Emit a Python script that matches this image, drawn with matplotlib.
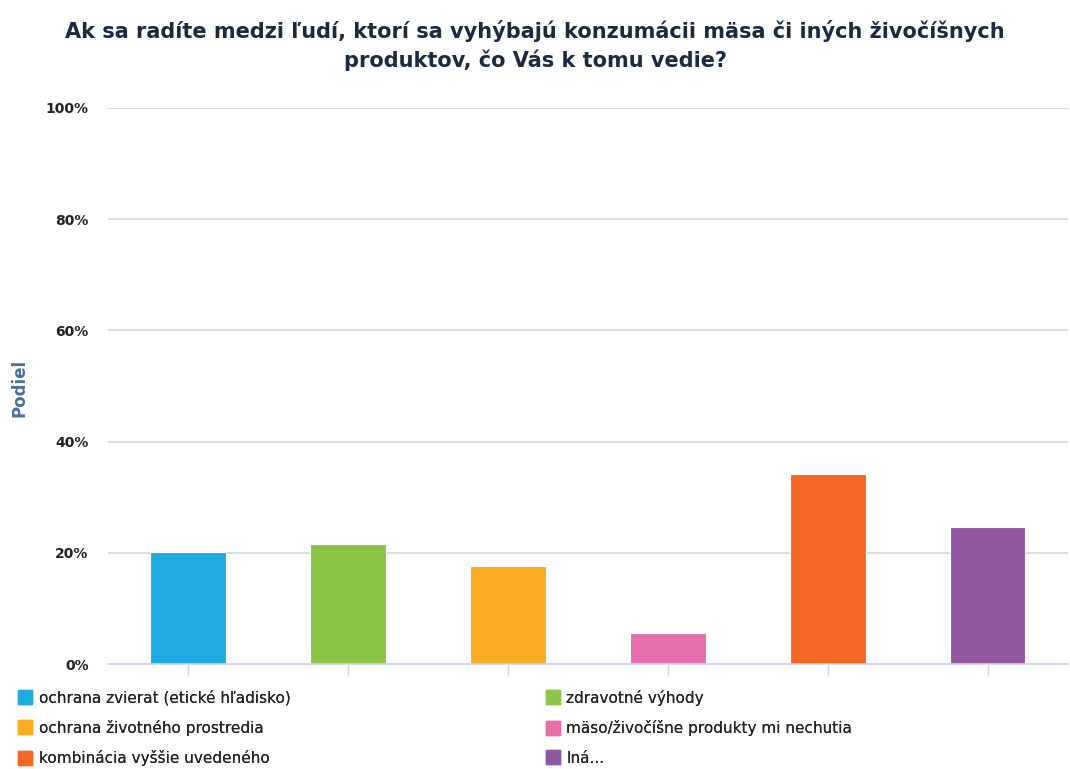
import numpy as np
import matplotlib
matplotlib.use('Agg')
import matplotlib.pyplot as plt
from matplotlib.lines import Line2D

# data
categories = ['ochrana zvierat (etické hľadisko)', 'zdravotné výhody',
              'ochrana životného prostredia', 'mäso/živočíšne produkty mi nechutia',
              'kombinácia vyššie uvedeného', 'Iná...']
shares = [20.1, 21.6, 17.6, 5.5, 34.2, 24.6]
colors = ['#1fa9e1', '#8bc546', '#fbaa24', '#e66fab', '#f26724', '#9157a0']
yticks = [0, 20, 40, 60, 80, 100]
ytick_labels = ['0%', '20%', '40%', '60%', '80%', '100%']
title = 'Ak sa radíte medzi ľudí, ktorí sa vyhýbajú konzumácii mäsa či iných živočíšnych\nproduktov, čo Vás k tomu vedie?'

fig = plt.figure(figsize=(10.7, 7.69), dpi=100)
ax = fig.add_axes([0.101, 0.1365, 0.897, 0.7231])

x = np.arange(len(categories))
for i in range(len(categories)):
    ax.bar(x[i], shares[i], width=0.47, color=colors[i], edgecolor='white',
           linewidth=0.8, label=categories[i], zorder=3)

ax.set_xlim(-0.5, len(categories) - 0.5)
ax.set_ylim(0, 100)
ax.set_yticks(yticks)
ax.set_yticklabels(ytick_labels, fontsize=10, fontweight='bold', color='#222222')
ax.yaxis.grid(True, color='#d6d6d6', linewidth=1.2, zorder=0)
ax.tick_params(axis='y', length=0, pad=14)
ax.set_xticks(x)
ax.set_xticklabels([])
ax.tick_params(axis='x', length=8, color='#ccd6eb', width=1)
for s in ['top', 'right', 'left']:
    ax.spines[s].set_visible(False)
ax.spines['bottom'].set_color('#ccd6eb')
ax.spines['bottom'].set_linewidth(1.2)
ax.spines['bottom'].set_zorder(4)

# y axis title
fig.text(20 / 1070, 1 - 388 / 769, 'Podiel', rotation=90, ha='center', va='center',
         fontsize=12, fontweight='bold', color='#4a6f96')

fig.text(0.5, 0.974, title, ha='center', va='top', fontsize=15, fontweight='bold',
         color='#1b2a3f', linespacing=1.45)

# legend in two columns
def handle(c):
    return Line2D([0], [0], marker='s', linestyle='none', markersize=10,
                  markerfacecolor=c, markeredgecolor=c)

col1 = [0, 2, 4]
col2 = [1, 3, 5]
for cols, xpos in [(col1, 0.012), (col2, 0.505)]:
    leg = fig.legend([handle(colors[i]) for i in cols], [categories[i] for i in cols],
                     loc='upper left', bbox_to_anchor=(xpos, 0.111), frameon=False,
                     fontsize=11, handlelength=0.8, handletextpad=0.5,
                     labelspacing=0.95, borderaxespad=0)
    for t in leg.get_texts():
        t.set_color('#222222')
    fig.add_artist(leg)

fig.savefig('out.png', dpi=100)
